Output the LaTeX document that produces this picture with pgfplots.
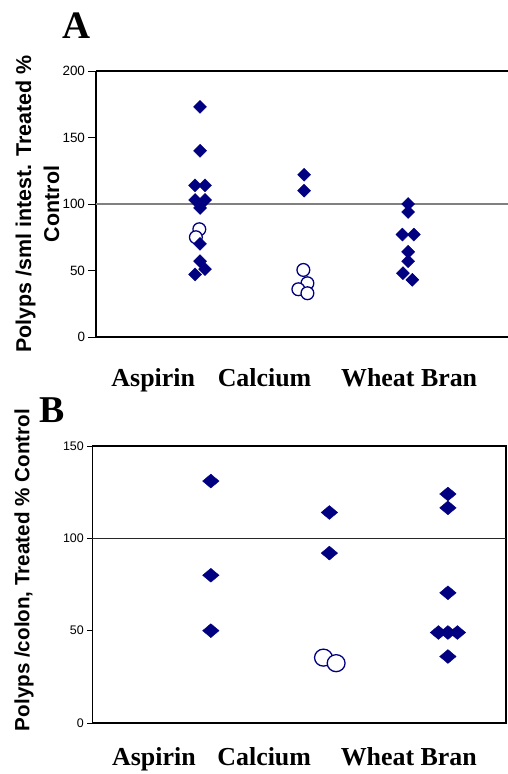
\documentclass[border=0pt]{standalone}
\usepackage{pgfplots}
\pgfplotsset{compat=1.18}
\usepackage{fontspec}
\setmainfont{Liberation Sans}
\newfontfamily\seriffont{Liberation Serif}
\definecolor{navy}{RGB}{0,0,128}
\pgfplotsset{
  diamA/.style={only marks, mark=square*, mark size=4.6bp, mark options={rotate=45, fill=navy, draw=navy, line width=0.4bp}},
  circA/.style={only marks, mark=*, mark size=6.4bp, mark options={fill=white, draw=navy, line width=1.3bp}},
  diamB/.style={only marks, mark=square*, mark size=4.9bp, mark options={xscale=1.19, rotate=45, fill=navy, draw=navy, line width=0.4bp}},
  circB/.style={only marks, mark=*, mark size=8.5bp, mark options={xscale=1.05, fill=white, draw=navy, line width=1.3bp}},
}
\begin{document}
\begin{tikzpicture}[x=1bp,y=1bp]
\useasboundingbox (0,0) rectangle (508,774);
\node[font=\seriffont\bfseries\fontsize{39}{39}\selectfont] at (77,748.5) {A};
\node[font=\seriffont\bfseries\fontsize{38}{38}\selectfont] at (52,364) {B};
% Panel A
\begin{axis}[
  at={(96bp,437bp)}, anchor=south west,
  scale only axis, width=412bp, height=266bp,
  xmin=0, xmax=3.96, ymin=0, ymax=200,
  axis x line*=box, axis y line*=left,
  axis line style={line width=1.8bp},
  ytick={0,50,100,150,200}, ytick pos=left,
  ytick align=outside, xtick align=inside,
  major tick length=7.5bp,
  ytick style={line width=0.8bp, black},
  xtick={0.55,1.62,3.01}, xticklabels={Aspirin,Calcium,Wheat Bran},
  xtick style={draw=none}, xtick pos=bottom,
  /pgf/number format/assume math mode=true,
  yticklabel style={font=\fontsize{13.5}{14}\selectfont},
  xticklabel style={font=\seriffont\bfseries\fontsize{26}{26}\selectfont, anchor=base, yshift=-49.5bp},
  ylabel={Polyps /sml intest. Treated \%\\Control},
  ylabel style={align=center, font=\bfseries\fontsize{21.5}{28}\selectfont, at={(axis description cs:-0.142,0.5)}, anchor=center},
  clip=false,
]
\addplot[gray, line width=1.2bp] coordinates {(0,100) (3.96,100)};
\addplot[circA] coordinates {
(0.993,81) (0.96,75)
(1.993,50.4) (2.032,40.4) (1.945,35.9) (2.032,32.9)
};
\addplot[diamA] coordinates {
(1,173) (1,140) (0.952,114) (1.048,114) (0.952,103) (1.048,103) (1,97) (1,70) (1,57) (1.048,51) (0.952,47)
(2,122) (2,110)
(3,100) (3,94) (2.945,77) (3.055,77) (3,64) (3,57) (2.95,48) (3.04,43)
};
\end{axis}
% Panel B
\begin{axis}[
  at={(92.3bp,51bp)}, anchor=south west,
  scale only axis, width=413.7bp, height=277bp,
  xmin=0, xmax=3.49, ymin=0, ymax=150,
  axis line style={line width=1.3bp},
  ytick={0,50,100,150}, ytick pos=left,
  ytick align=outside, xtick align=inside,
  major tick length=5bp,
  ytick style={line width=0.8bp, black},
  xtick={0.52,1.45,2.67}, xticklabels={Aspirin,Calcium,Wheat Bran},
  xtick style={draw=none}, xtick pos=bottom,
  /pgf/number format/assume math mode=true,
  yticklabel style={font=\fontsize{12.5}{13}\selectfont},
  xticklabel style={font=\seriffont\bfseries\fontsize{26}{26}\selectfont, anchor=base, yshift=-42.5bp},
  ylabel={Polyps /colon, Treated \% Control},
  ylabel style={font=\bfseries\fontsize{20.7}{24}\selectfont, at={(axis description cs:-0.165,0.552)}, anchor=center},
  clip=false,
]
\addplot[black!85, line width=1bp] coordinates {(0,100) (3.49,100)};
\addplot[circB] coordinates {(1.95,35.4) (2.057,32.4)};
\addplot[diamB] coordinates {
(1,131) (1,80) (1,50)
(2,114) (2,92)
(3,124) (3,116.5) (3,70.5) (2.92,49) (3,49) (3.08,49) (3,36)
};
\end{axis}
\end{tikzpicture}
\end{document}
